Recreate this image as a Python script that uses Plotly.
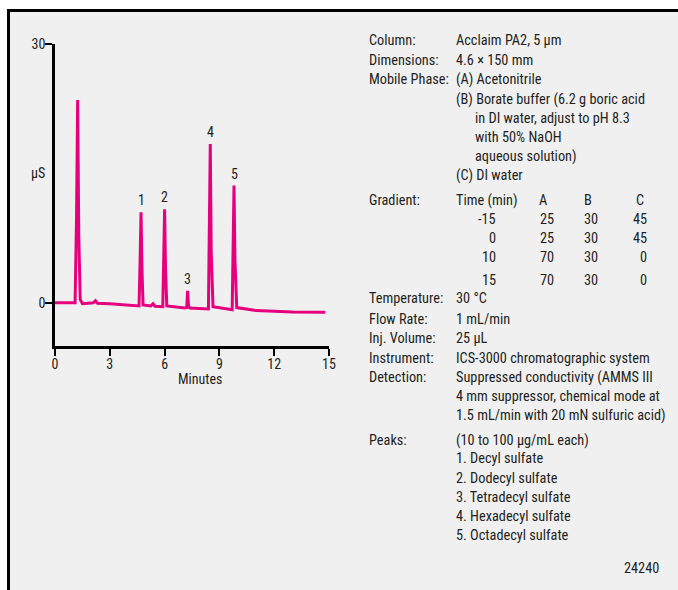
import plotly.graph_objects as go

# ---- data ----
time_min = [0, 1.10, 1.18, 1.24, 1.30, 1.38, 1.50, 2.10, 2.22, 2.32, 3.0, 4.0, 4.60, 4.66, 4.71, 4.76, 4.82,
            5.25, 5.37, 5.48, 5.90, 5.95, 6.00, 6.05, 6.12, 7.12, 7.21, 7.26, 7.31, 7.38, 8.40, 8.45, 8.50,
            8.55, 8.65, 9.70, 9.75, 9.80, 9.85, 9.95, 11.0, 12.0, 13.0, 14.8]
signal_us = [0, 0, 10, 23.5, 8, 0.4, -0.1, 0, 0.25, -0.05, -0.1, -0.25, -0.35, 5, 10.5, 4, -0.25,
             -0.35, -0.1, -0.4, -0.45, 5, 10.85, 4, -0.35, -0.6, -0.55, 1.4, -0.35, -0.6, -0.7, 9, 18.4,
             6, -0.45, -0.8, 7, 13.6, 5, -0.55, -0.9, -1.0, -1.05, -1.08]

peak_labels = ["1", "2", "3", "4", "5"]
peak_times = [4.71, 6.00, 7.26, 8.50, 9.80]
peak_heights = [10.5, 10.85, 1.4, 18.4, 13.6]

x_ticks = [0, 3, 6, 9, 12, 15]
y_ticks = [0, 30]

info_rows = [
    ("Column:", "Acclaim PA2, 5 µm"),
    ("Dimensions:", "4.6 × 150 mm"),
    ("Mobile Phase:", "(A) Acetonitrile"),
    ("", "(B) Borate buffer (6.2 g boric acid"),
    ("", "   in DI water, adjust to pH 8.3"),
    ("", "   with 50% NaOH"),
    ("", "   aqueous solution)"),
    ("", "(C) DI water"),
]
gradient_header = ["Time (min)", "A", "B", "C"]
gradient_time = ["-15", "0", "10", "15"]
gradient_A = ["25", "25", "70", "70"]
gradient_B = ["30", "30", "30", "30"]
gradient_C = ["45", "45", "0", "0"]
info_rows2 = [
    ("Temperature:", "30 °C"),
    ("Flow Rate:", "1 mL/min"),
    ("Inj. Volume:", "25 µL"),
    ("Instrument:", "ICS-3000 chromatographic system"),
    ("Detection:", "Suppressed conductivity (AMMS III"),
    ("", "   4 mm suppressor, chemical mode at"),
    ("", "   1.5 mL/min with 20 mN sulfuric acid)"),
    ("Peaks:", "(10 to 100 µg/mL each)"),
    ("", "1. Decyl sulfate"),
    ("", "2. Dodecyl sulfate"),
    ("", "3. Tetradecyl sulfate"),
    ("", "4. Hexadecyl sulfate"),
    ("", "5. Octadecyl sulfate"),
]
figure_id = "24240"

# ---- layout constants ----
W, H = 678, 590
ML, MT, MR, MB = 55, 44, 349, 244
PW, PH = W - ML - MR, H - MT - MB
FONT = "Liberation Sans Narrow, Roboto Condensed, Arial Narrow, Liberation Sans, sans-serif"
TXT = "#231f20"
PINK = "#E6007E"


def px(x):
    return (x - ML) / PW


def py(y):
    return (MT + PH - y) / PH


fig = go.Figure()
fig.add_trace(go.Scatter(x=time_min, y=signal_us, mode="lines",
                         line=dict(color=PINK, width=3), hoverinfo="skip", showlegend=False))

ann = []
for lab, t, h in zip(peak_labels, peak_times, peak_heights):
    ann.append(dict(x=t, y=h, xref="x", yref="y", text=lab, showarrow=False,
                    yanchor="bottom", yshift=2, font=dict(size=14, color=TXT, family=FONT)))

ann.append(dict(x=px(38), y=py(173), xref="paper", yref="paper", text="µS", showarrow=False,
                xanchor="center", yanchor="middle", font=dict(size=14, color=TXT, family=FONT)))
ann.append(dict(x=px(200), y=py(379), xref="paper", yref="paper", text="Minutes", showarrow=False,
                xanchor="center", yanchor="middle", font=dict(size=14, color=TXT, family=FONT)))

LX, VX, IND = 367, 454, 473
FS = 14.3


def txt(x, y, s, anchor="left"):
    ann.append(dict(x=px(x), y=py(y), xref="paper", yref="paper", text=s, showarrow=False,
                    xanchor=anchor, yanchor="middle", font=dict(size=FS, color=TXT, family=FONT)))


ys1 = [40, 60, 79, 99, 118, 137, 156, 175]
for (lab, val), y in zip(info_rows, ys1):
    if lab:
        txt(LX, y, lab)
    if val.startswith("   "):
        txt(IND, y, val.strip())
    else:
        txt(VX, y, val)

# gradient table
txt(LX, 200, "Gradient:")
txt(VX, 200, gradient_header[0])
txt(543, 200, gradient_header[1], "center")
txt(588, 200, gradient_header[2], "center")
txt(640, 200, gradient_header[3], "center")
for i, y in enumerate([219, 238, 257, 280]):
    txt(498, y, gradient_time[i], "right")
    txt(546.5, y, gradient_A[i], "center")
    txt(590.5, y, gradient_B[i], "center")
    txt(649, y, gradient_C[i], "right")

ys2 = [298, 319, 338, 358, 377, 396, 415, 440, 458, 478, 497, 516, 535]
for (lab, val), y in zip(info_rows2, ys2):
    if lab:
        txt(LX, y, lab)
    if val.startswith("   "):
        txt(VX, y, val.strip())
    else:
        txt(VX, y, val)

txt(661, 568, figure_id, "right")

shapes = [dict(type="rect", xref="paper", yref="paper", x0=px(8.5), x1=px(700), y0=py(10.5), y1=py(620),
               fillcolor="#f0f0f0", line=dict(color="#000", width=3), layer="below")]

fig.update_layout(
    width=W, height=H, autosize=False,
    margin=dict(l=ML, r=MR, t=MT, b=MB, pad=0),
    paper_bgcolor="white", plot_bgcolor="rgba(0,0,0,0)",
    annotations=ann, shapes=shapes,
    font=dict(family=FONT, size=14, color=TXT),
    xaxis=dict(range=[0, 15], tickvals=x_ticks, ticks="outside", ticklen=7, tickwidth=2,
               tickcolor="#000", showline=True, linecolor="#000", linewidth=2.5, showgrid=False,
               zeroline=False, ticklabelstandoff=-4, tickfont=dict(size=14, color=TXT, family=FONT)),
    yaxis=dict(range=[-5, 30], tickvals=y_ticks, ticks="outside", ticklen=7, tickwidth=2,
               tickcolor="#000", showline=True, linecolor="#000", linewidth=2.5, showgrid=False,
               zeroline=False, ticklabelstandoff=-3, tickfont=dict(size=14, color=TXT, family=FONT)),
)

fig.write_html("out.html", config={"displayModeBar": False},
               post_script="document.body.style.margin='0';document.body.style.overflow='hidden';")
